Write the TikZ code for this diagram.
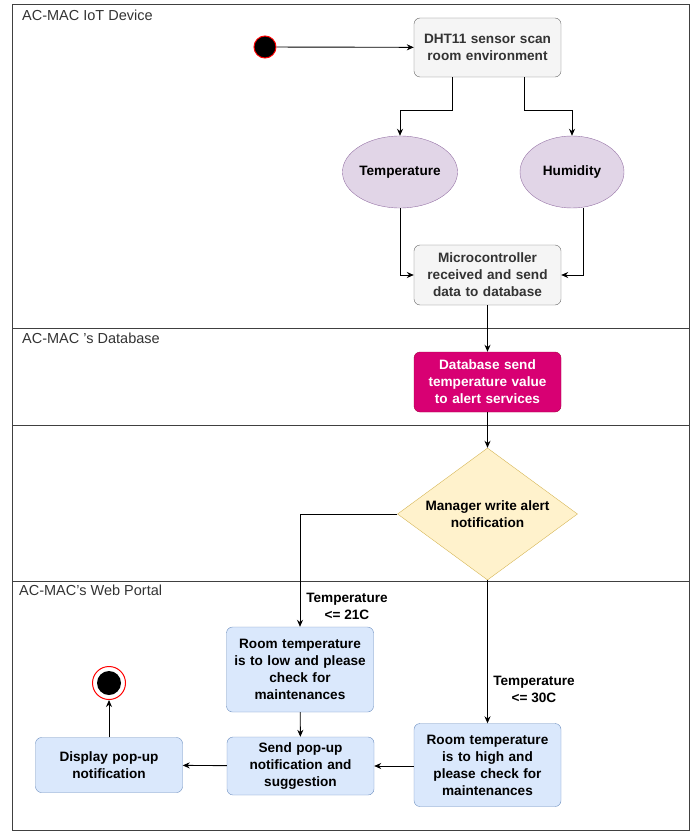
\documentclass[tikz,border=0pt]{standalone}
\usepackage{fontspec}
\setmainfont{Liberation Sans}
\usetikzlibrary{shapes.geometric,arrows.meta}
\definecolor{grayfill}{HTML}{F5F5F5}
\definecolor{grayline}{HTML}{666666}
\definecolor{grayText}{HTML}{333333}
\definecolor{purpfill}{HTML}{E1D5E7}
\definecolor{purpline}{HTML}{9673A6}
\definecolor{yelfill}{HTML}{FFF2CC}
\definecolor{yelline}{HTML}{D6B656}
\definecolor{bluefill}{HTML}{DAE8FC}
\definecolor{blueline}{HTML}{6C8EBF}
\definecolor{magfill}{HTML}{D80073}
\definecolor{magline}{HTML}{A50040}
\tikzset{
  x=1pt,y=-1pt,
  base/.style={font=\bfseries\fontsize{13.6}{17}\selectfont, align=center, inner sep=2pt},
  graybox/.style={base, draw=grayline, fill=grayfill, text=grayText, rounded corners=6pt, minimum width=145pt, minimum height=59pt, text width=143pt},
  bluebox/.style={base, draw=blueline, fill=bluefill, rounded corners=6pt, minimum width=145pt, text width=143pt},
  magbox/.style={base, draw=magline, fill=magfill, text=white, rounded corners=6pt, minimum width=145pt, minimum height=60pt, text width=143pt},
  oval/.style={base, ellipse, draw=purpline, fill=purpfill, minimum width=104pt, minimum height=72pt, inner sep=0pt},
  decision/.style={base, diamond, draw=yelline, fill=yelfill, minimum width=180pt, minimum height=132pt, aspect=1.38, inner sep=0pt},
  conn/.style={draw=black, line width=0.9pt, -{Stealth[length=7pt,width=6pt]}},
  lane/.style={draw=black!75, line width=1pt},
  lanelabel/.style={font=\fontsize{14.5}{16}\selectfont, text=black!80, anchor=north west, inner sep=0pt},
  edgelabel/.style={base, inner sep=1pt}
}
\begin{document}
\begin{tikzpicture}
\useasboundingbox (0,0) rectangle (690,832);
% swimlanes
\draw[lane] (12,5) rectangle (689,830);
\draw[lane] (12,328) -- (689,328);
\draw[lane] (12,425) -- (689,425);
\draw[lane] (12,581) -- (689,581);
\node[lanelabel] (l1) at (22,10) {AC-MAC IoT Device};
\node[lanelabel] (l2) at (22,333) {AC-MAC 's Database};
\node[lanelabel] (l4) at (19,585) {AC-MAC's Web Portal};
% nodes
\node[circle, fill=black, draw=red, line width=1pt, minimum size=22pt, inner sep=0pt] (start) at (265,47) {};
\node[graybox] (dht) at (487.5,47.5) {DHT11 sensor scan\\room environment};
\node[oval] (temp) at (400,172) {Temperature};
\node[oval] (hum) at (572,172) {Humidity};
\node[graybox, minimum height=60pt] (mcu) at (487.5,275) {Microcontroller\\received and send\\data to database};
\node[magbox] (db) at (487.5,382) {Database send\\temperature value\\to alert services};
\node[decision] (dec) at (487.5,514) {Manager write alert\\notification};
\node[bluebox, minimum height=85pt] (low) at (300,669.5) {Room temperature\\is to low and please\\check for\\maintenances};
\node[bluebox, minimum height=83pt] (high) at (487.5,765) {Room temperature\\is to high and\\please check for\\maintenances};
\node[bluebox, minimum height=58pt] (send) at (300.5,766) {Send pop-up\\notification and\\suggestion};
\node[bluebox, minimum width=144pt, minimum height=55pt] (disp) at (109,765) {Display pop-up\\notification};
\node[circle, fill=white, draw=red, line width=1pt, minimum size=33pt, inner sep=0pt] (endo) at (109,683) {};
\node[circle, fill=black, minimum size=24pt, inner sep=0pt] (endi) at (109,683) {};
% connectors
\draw[conn] (start) -- (dht);
\draw[conn] (dht.south -| 452,0) |- (400,110) -- (temp.north);
\draw[conn] (dht.south -| 524,0) |- (572,110) -- (hum.north);
\draw[conn] (temp.south) |- (mcu.west);
\draw[conn] (hum.south -| 583,0) |- (mcu.east);
\draw[conn] (mcu) -- (db);
\draw[conn] (db) -- (dec);
\draw[conn] (dec.west) -| (low.north);
\draw[conn] (dec.south) -- (high.north);
\draw[conn] (low) -- (send);
\draw[conn] (high.west |- send.east) -- (send.east);
\draw[conn] (send) -- (disp);
\draw[conn] (disp) -- (endo);
% edge labels
\node[edgelabel] (lab1) at (347,606) {Temperature\\<= 21C};
\node[edgelabel] (lab2) at (534,689) {Temperature\\<= 30C};
\end{tikzpicture}
\end{document}
